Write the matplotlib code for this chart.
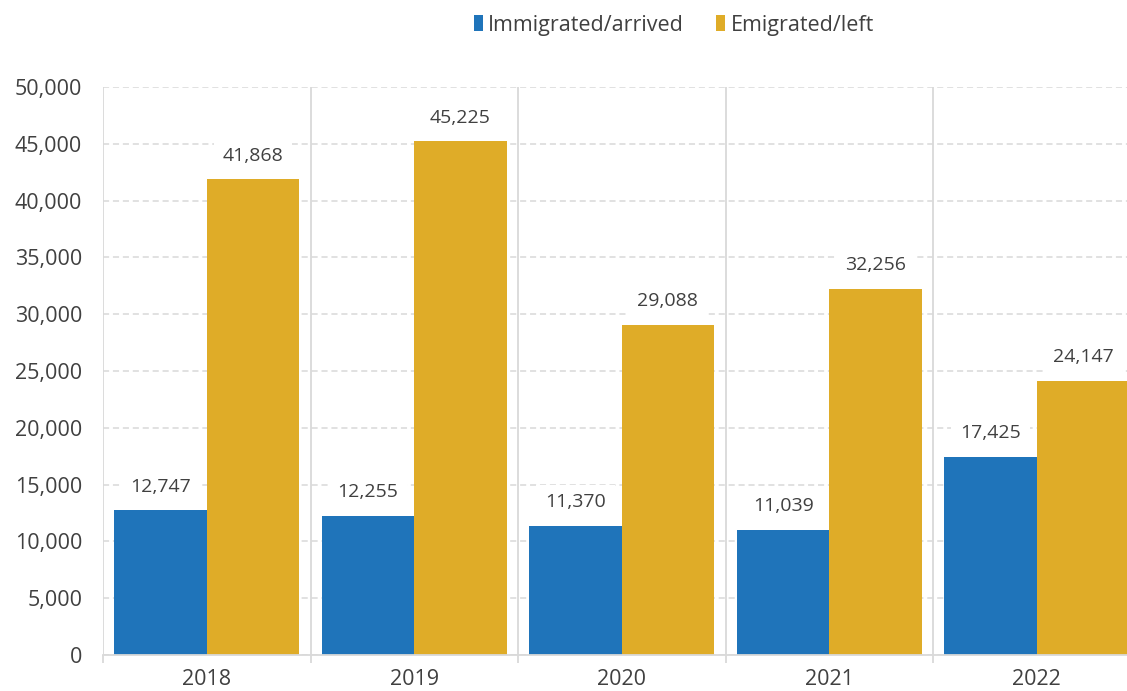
import matplotlib
matplotlib.use("Agg")
import matplotlib.pyplot as plt
import numpy as np

years = ["2018", "2019", "2020", "2021", "2022"]
immigrated = [12747, 12255, 11370, 11039, 17425]
emigrated = [41868, 45225, 29088, 32256, 24147]
series_names = ["Immigrated/arrived", "Emigrated/left"]
y_ticks = [0, 5000, 10000, 15000, 20000, 25000, 30000, 35000, 40000, 45000, 50000]

BLUE = "#1f74ba"
GOLD = "#dfac28"
TEXT = "#404040"
GRID = "#d9d9d9"

plt.rcParams["font.family"] = ["Open Sans", "DejaVu Sans"]

fig = plt.figure(figsize=(11.27, 6.91), dpi=100)
ax = fig.add_axes([103 / 1127, 1 - 655 / 691, 1037.5 / 1127, (655 - 87) / 691])

x = np.arange(len(years))
w = 0.445
b1 = ax.bar(x - w / 2, immigrated, w, color=BLUE, zorder=2, label=series_names[0])
b2 = ax.bar(x + w / 2, emigrated, w, color=GOLD, zorder=2, label=series_names[1])

ax.set_xlim(-0.5, len(years) - 0.5)
ax.set_ylim(0, 50000)

# horizontal dashed gridlines
ax.set_yticks(y_ticks)
ax.set_yticklabels([f"{v:,}" for v in y_ticks])
ax.yaxis.grid(True, linestyle=(0, (4, 2.5)), color=GRID, linewidth=1.1, zorder=0)
ax.tick_params(axis="y", length=0, labelsize=15.5, labelcolor=TEXT, pad=15)

# category separators
seps = np.arange(-0.5, len(years), 1.0)
for s in seps:
    ax.axvline(s, color=GRID, linewidth=1.3, zorder=1)
ax.set_xticks(x)
ax.set_xticklabels(years)
ax.set_xticks(seps, minor=True)
ax.tick_params(axis="x", which="major", length=0, labelsize=15.5, labelcolor=TEXT, pad=10)
ax.tick_params(axis="x", which="minor", length=6, color=GRID, width=1.3)

for sp in ["top", "right", "left"]:
    ax.spines[sp].set_visible(False)
ax.spines["bottom"].set_color(GRID)
ax.spines["bottom"].set_linewidth(1.3)

# value labels
for bars in (b1, b2):
    for rect in bars:
        h = rect.get_height()
        ax.annotate(f"{int(h):,}", (rect.get_x() + rect.get_width() / 2, h),
                    xytext=(0, 10.5), textcoords="offset points",
                    ha="center", va="bottom", fontsize=14, color=TEXT, zorder=5,
                    bbox=dict(boxstyle="square,pad=0.45", fc="white", ec="none"))

leg = fig.legend(handles=[b1, b2], loc="center", bbox_to_anchor=(674 / 1127, 1 - 25 / 691),
                 ncol=2, frameon=False, fontsize=15.5, handlelength=0.4, handleheight=0.8,
                 handletextpad=0.25, columnspacing=1.5, labelcolor=TEXT)

fig.savefig("out.png", dpi=100)
